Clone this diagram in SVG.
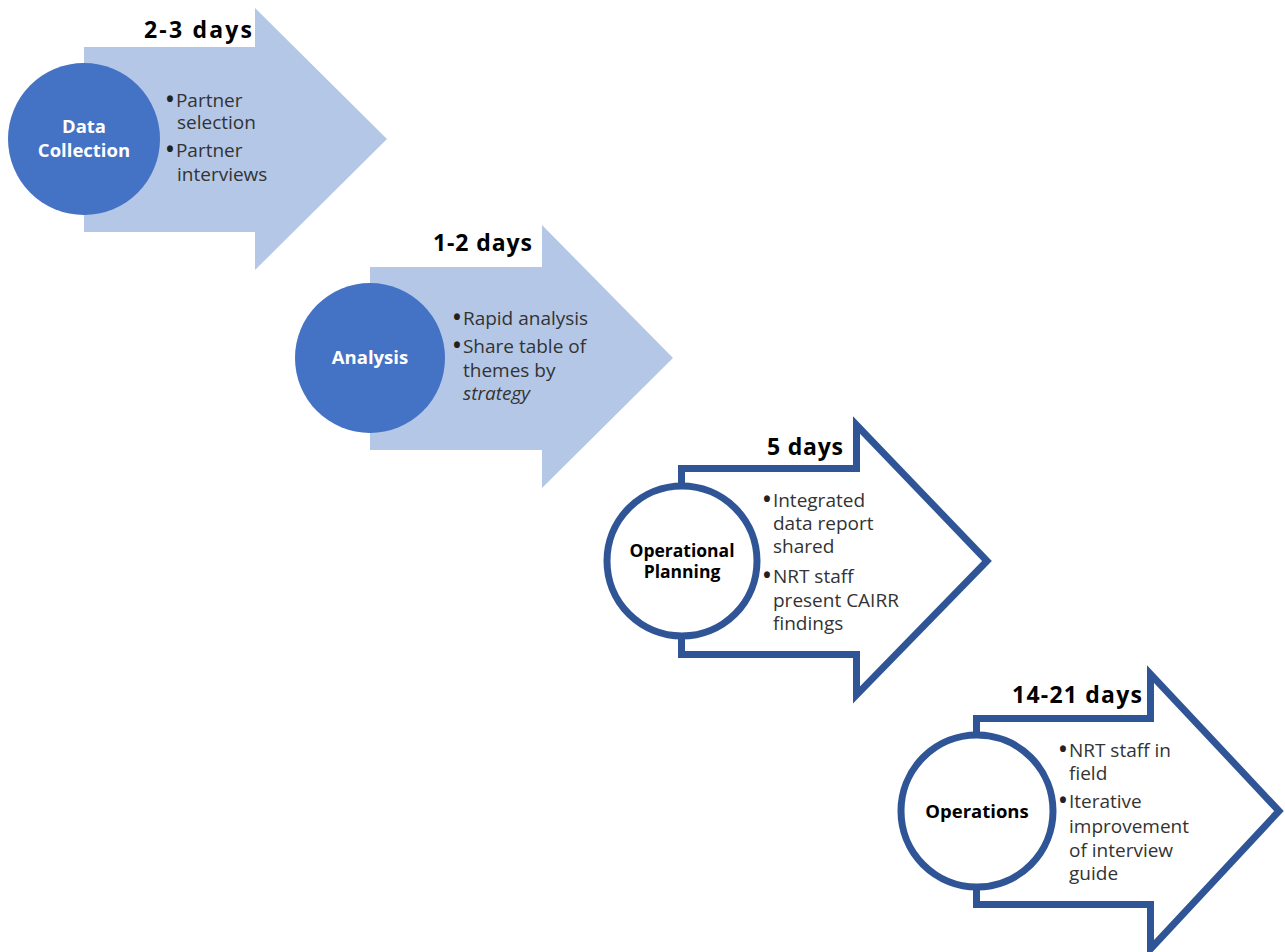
<svg xmlns="http://www.w3.org/2000/svg" width="1285" height="952" viewBox="0 0 1285 952">
<style>
.fillarrow{fill:#B4C7E7;stroke:none}
.fillcircle{fill:#4472C4;stroke:none}
.outarrow{fill:#FFFFFF;stroke:#2F5597;stroke-width:7;stroke-linejoin:miter;stroke-miterlimit:10}
.outcircle{fill:#FFFFFF;stroke:#2F5597;stroke-width:7}
.dur{font-family:"Open Sans","Noto Sans",sans-serif;font-weight:bold;font-size:23px;fill:#000;text-anchor:end}
.title{font-family:"Open Sans","Noto Sans",sans-serif;font-weight:bold;font-size:18.5px;text-anchor:middle}
.w{fill:#FFFFFF}
.k{fill:#000000}
.bul{font-family:"Open Sans","Noto Sans",sans-serif;font-size:19px;fill:#333333}
.dot{font-size:21px;font-weight:bold;fill:#222222}
</style>
<rect width="1285" height="952" fill="#FFFFFF"/>
<g id="connectors"></g>
<g id="data-collection">
  <path class="fillarrow" d="M84 47 H255 V8 L387 139 L255 270 V232 H84 Z"/>
  <circle class="fillcircle" cx="84" cy="139" r="76"/>
  <text class="title w" x="84"><tspan x="84" y="133">Data</tspan><tspan x="84" y="157">Collection</tspan></text>
  <text class="dur" x="252" y="38" textLength="108" lengthAdjust="spacing">2-3 days</text>
  <text class="bul"><tspan x="166" y="107"><tspan class="dot">•</tspan><tspan dx="2">Partner</tspan></tspan><tspan x="177" y="129">selection</tspan><tspan x="166" y="157"><tspan class="dot">•</tspan><tspan dx="2">Partner</tspan></tspan><tspan x="177" y="181">interviews</tspan></text>
</g>
<g id="analysis">
  <path class="fillarrow" d="M370 267 H542 V225 L673 358 L542 488 V450 H370 Z"/>
  <circle class="fillcircle" cx="370" cy="358" r="75"/>
  <text class="title w" x="370" y="364">Analysis</text>
  <text class="dur" x="532" y="251" textLength="99" lengthAdjust="spacing">1-2 days</text>
  <text class="bul"><tspan x="453" y="325"><tspan class="dot">•</tspan><tspan dx="2">Rapid analysis</tspan></tspan><tspan x="453" y="353"><tspan class="dot">•</tspan><tspan dx="2">Share table of</tspan></tspan><tspan x="463" y="377">themes by</tspan><tspan x="463" y="400" font-style="italic">strategy</tspan></text>
</g>
<g id="operational-planning">
  <path class="outarrow" d="M681.5 468.5 H856.5 V425 L987 561 L856.5 695 V654.5 H681.5 Z"/>
  <circle class="outcircle" cx="682" cy="561" r="75"/>
  <text class="title k" style="font-size:17.5px"><tspan x="682" y="557">Operational</tspan><tspan x="682" y="578">Planning</tspan></text>
  <text class="dur" x="843" y="455" textLength="76" lengthAdjust="spacing">5 days</text>
  <text class="bul"><tspan x="763" y="507"><tspan class="dot">•</tspan><tspan dx="2">Integrated</tspan></tspan><tspan x="773" y="530">data report</tspan><tspan x="773" y="553">shared</tspan><tspan x="763" y="583"><tspan class="dot">•</tspan><tspan dx="2">NRT staff</tspan></tspan><tspan x="773" y="607">present CAIRR</tspan><tspan x="773" y="630">findings</tspan></text>
</g>
<g id="operations">
  <path class="outarrow" d="M976.5 718.5 H1150.5 V674 L1279 811 L1150.5 949 V904.5 H976.5 Z"/>
  <circle class="outcircle" cx="977" cy="811" r="76"/>
  <text class="title k" x="977" y="818">Operations</text>
  <text class="dur" x="1142" y="703" textLength="130" lengthAdjust="spacing">14-21 days</text>
  <text class="bul"><tspan x="1059" y="757"><tspan class="dot">•</tspan><tspan dx="2">NRT staff in</tspan></tspan><tspan x="1069" y="780">field</tspan><tspan x="1059" y="808"><tspan class="dot">•</tspan><tspan dx="2">Iterative</tspan></tspan><tspan x="1069" y="833">improvement</tspan><tspan x="1069" y="857">of interview</tspan><tspan x="1069" y="880">guide</tspan></text>
</g>
</svg>
